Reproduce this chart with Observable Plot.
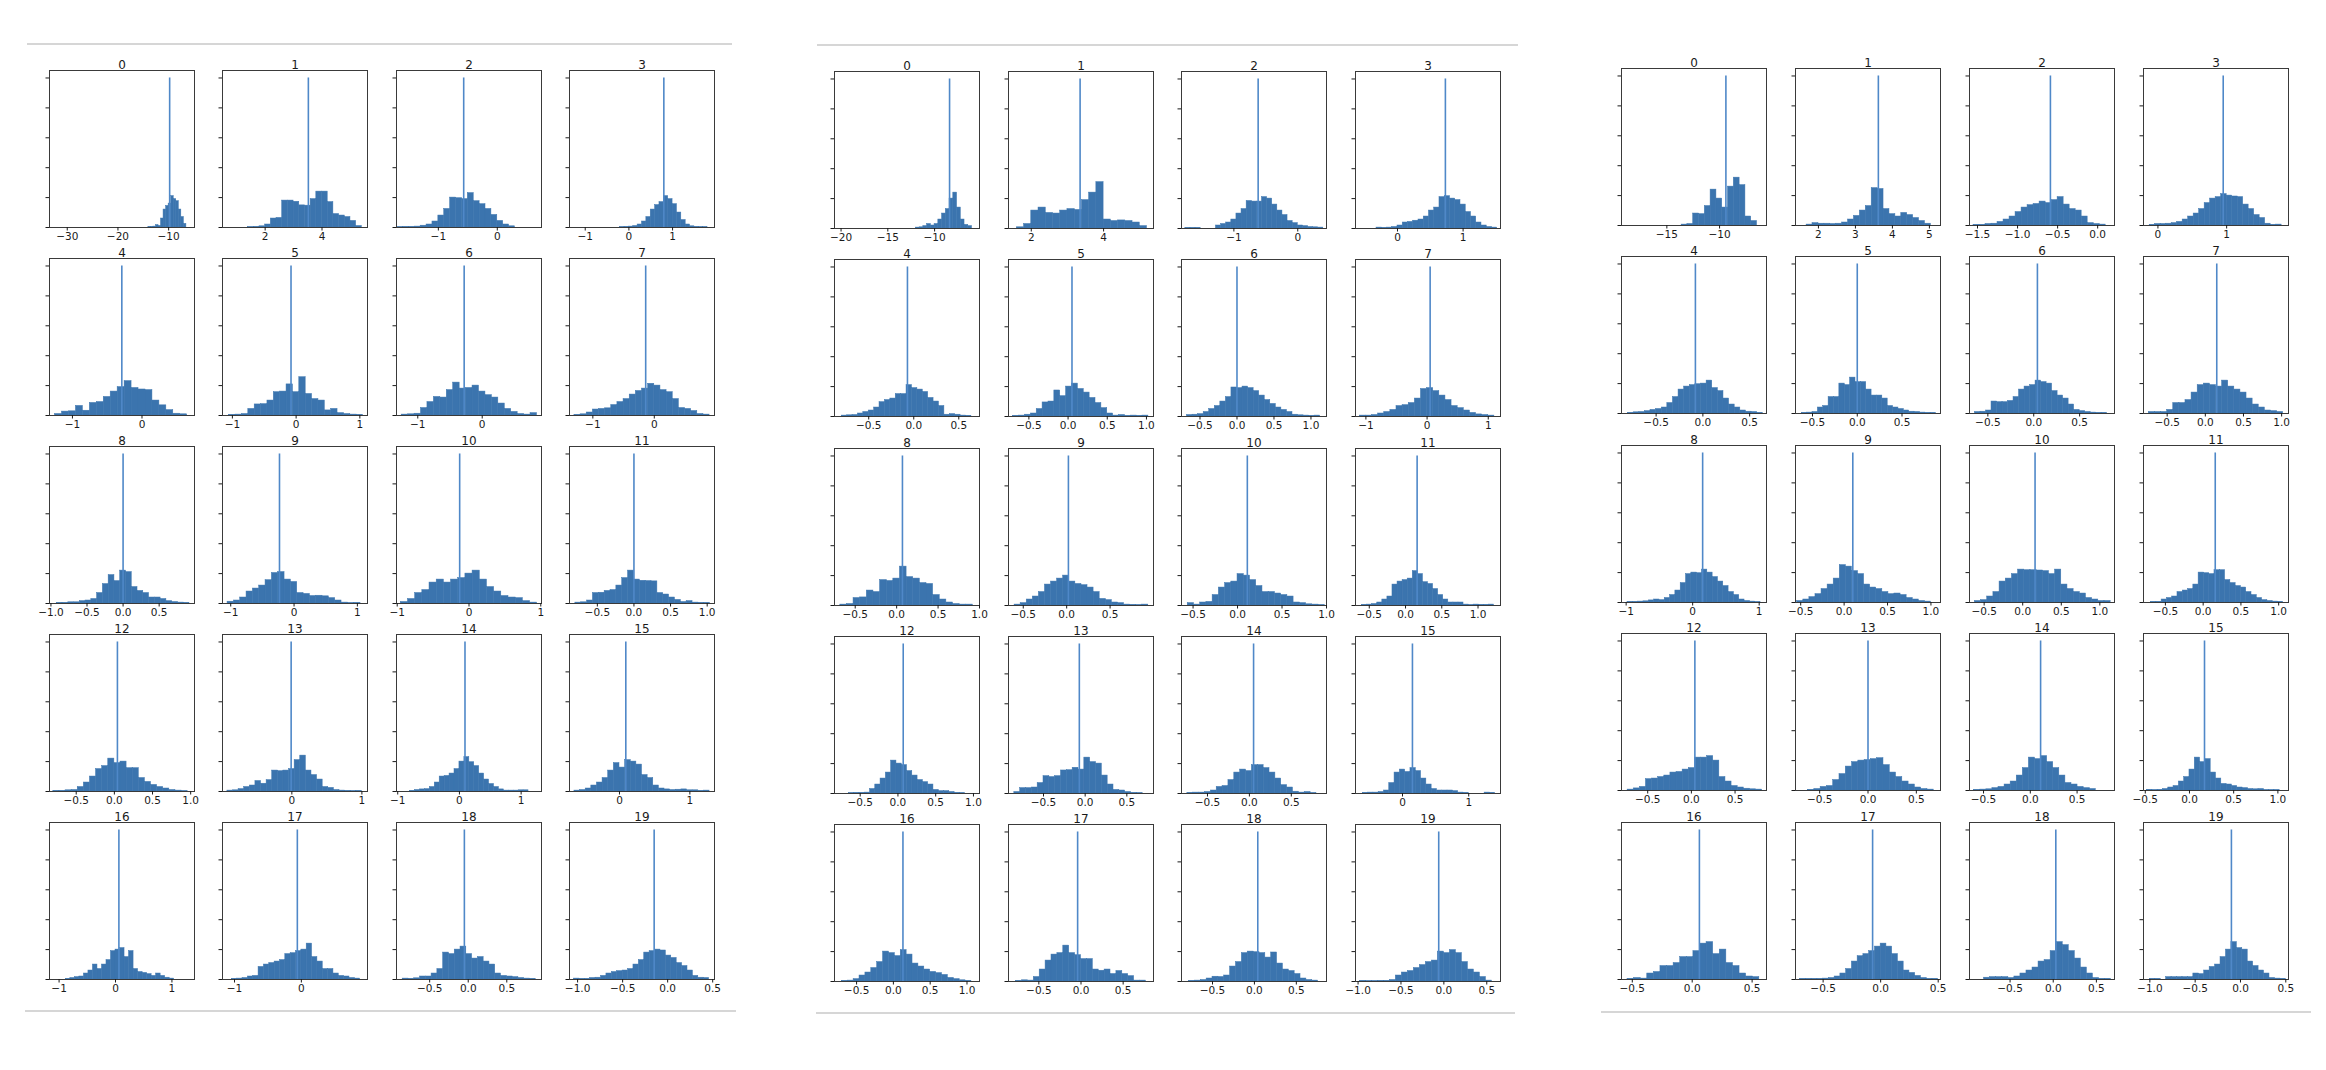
<!DOCTYPE html>
<html><head><meta charset="utf-8">
<script src="https://cdn.jsdelivr.net/npm/d3@7"></script>
<script src="https://cdn.jsdelivr.net/npm/@observablehq/plot@0.6"></script>
<style>
html,body{margin:0;padding:0;background:#fff;}
#root{position:relative;width:2326px;height:1070px;overflow:hidden;background:#fff;}
#root svg{position:absolute;}
.rule{position:absolute;height:2px;background:#d6d6d6;}
</style></head><body><div id="root"></div>
<script>
// ---------- DATA ----------
const subplotTitles = ["0","1","2","3","4","5","6","7","8","9","10","11","12","13","14","15","16","17","18","19"];
const spikeHeight = 5;

// Left panel
const leftDomains = [[-33.5,-4.9],[0.5,5.6],[-1.71,0.75],[-1.36,1.96],[-1.33,0.755],[-1.155,1.12],[-1.33,0.92],[-1.38,0.98],[-1.02,0.99],[-1.13,1.16],[-1.01,1.01],[-0.88,1.1],[-0.85,1.05],[-0.99,1.08],[-1.02,1.33],[-0.71,1.35],[-1.17,1.4],[-1.18,0.99],[-0.93,0.95],[-1.09,0.52]];
const leftTicks = [[-30,-20,-10],[2,4],[-1,0],[-1,0,1],[-1,0],[-1,0,1],[-1,0],[-1,0],[-1,-0.5,0,0.5],[-1,0,1],[-1,0,1],[-0.5,0,0.5,1],[-0.5,0,0.5,1],[0,1],[-1,0,1],[0,1],[-1,0,1],[-1,0],[-0.5,0,0.5],[-1,-0.5,0,0.5]];
const leftBinStart = [-14,1.4,-1.7,-0.2,-1.25,-1.05,-1.25,-1.3,-0.92,-1.05,-0.95,-0.8,-0.8,-0.92,-0.8,-0.64,-0.88,-1.04,-0.85,-1.04];
const leftBinWidth = [0.5,0.2,0.1,0.1,0.1,0.1,0.1,0.1,0.08,0.1,0.1,0.08,0.08,0.08,0.08,0.08,0.08,0.08,0.075,0.06];
const leftCounts = [
 [0.02,0.02,0.03,0.08,0.05,0.3,0.6,0.72,0.8,1.05,0.95,0.88,0.6,0.35,0.12],
 [0.01,0.02,0.04,0.1,0.3,0.32,0.9,0.9,0.86,0.74,0.73,0.95,1.2,1.2,0.85,0.45,0.4,0.35,0.22,0.05],
 [0.01,0.02,0.02,0.03,0.06,0.1,0.2,0.4,0.62,1.0,0.98,0.95,1.15,0.88,0.78,0.62,0.42,0.22,0.1,0.04],
 [0.01,0.02,0.03,0.05,0.1,0.2,0.35,0.6,0.75,0.85,1.05,0.95,0.78,0.5,0.25,0.1,0.04,0.02,0.01,0.01],
 [0.05,0.13,0.14,0.32,0.16,0.42,0.45,0.62,0.8,0.95,1.15,0.92,0.87,0.85,0.5,0.34,0.18,0.06,0.04],
 [0.02,0.03,0.05,0.22,0.37,0.38,0.5,0.78,0.8,1.04,0.78,1.28,0.72,0.55,0.5,0.17,0.22,0.08,0.05,0.03,0.02],
 [0.03,0.04,0.06,0.25,0.45,0.62,0.6,0.85,1.1,0.9,0.92,1.0,0.8,0.68,0.6,0.4,0.22,0.12,0.05,0.03,0.08],
 [0.02,0.04,0.1,0.2,0.22,0.24,0.35,0.45,0.55,0.7,0.82,0.9,1.06,1.0,0.85,0.78,0.55,0.25,0.22,0.15,0.05,0.03],
 [0.02,0.02,0.04,0.04,0.08,0.1,0.15,0.35,0.65,0.95,0.75,1.1,1.05,0.55,0.42,0.35,0.2,0.2,0.15,0.08,0.05,0.03,0.02],
 [0.06,0.1,0.2,0.4,0.5,0.6,0.78,1.02,1.05,0.8,0.72,0.35,0.32,0.25,0.26,0.24,0.18,0.1,0.03,0.01,0.02],
 [0.05,0.15,0.35,0.45,0.7,0.8,0.7,0.8,0.85,1.0,1.1,0.8,0.55,0.4,0.25,0.2,0.18,0.08,0.03],
 [0.03,0.04,0.1,0.35,0.36,0.42,0.45,0.6,0.85,1.1,0.8,0.76,0.75,0.74,0.35,0.3,0.2,0.12,0.05,0.08,0.03,0.02,0.02],
 [0.02,0.02,0.04,0.05,0.15,0.3,0.5,0.75,0.85,1.1,0.95,1.0,0.78,0.78,0.45,0.32,0.22,0.15,0.1,0.05,0.03,0.01],
 [0.03,0.04,0.08,0.15,0.2,0.35,0.26,0.38,0.7,0.68,0.7,0.75,1.05,1.2,0.7,0.55,0.4,0.15,0.12,0.05,0.03,0.02,0.01,0.02],
 [0.02,0.05,0.07,0.08,0.15,0.3,0.5,0.52,0.6,0.75,1.0,1.15,0.98,0.85,0.6,0.4,0.25,0.15,0.07,0.03,0.03,0.03,0.04,0.04],
 [0.03,0.05,0.1,0.2,0.3,0.45,0.7,0.95,0.8,1.05,1.0,0.9,0.55,0.45,0.2,0.1,0.07,0.05,0.06,0.07,0.04,0.04,0.02,0.03],
 [0.02,0.05,0.08,0.1,0.2,0.3,0.5,0.35,0.5,0.65,0.95,1.0,1.05,0.75,0.95,0.35,0.25,0.22,0.18,0.12,0.2,0.12,0.06,0.03],
 [0.02,0.03,0.05,0.1,0.12,0.42,0.5,0.55,0.6,0.65,0.85,0.88,0.95,1.0,1.2,0.75,0.6,0.35,0.35,0.2,0.12,0.1,0.05,0.03],
 [0.03,0.02,0.04,0.1,0.1,0.2,0.35,0.9,0.85,1.0,1.1,0.85,0.7,0.75,0.6,0.5,0.2,0.12,0.1,0.08,0.05,0.03,0.02],
 [0.03,0.02,0.02,0.05,0.06,0.12,0.2,0.25,0.28,0.3,0.35,0.5,0.65,0.9,0.95,1.0,0.97,0.8,0.72,0.55,0.45,0.3,0.12,0.06,0.05]
];
const leftSpikes = [-9.8,3.52,-0.57,0.8,-0.29,-0.08,-0.28,-0.14,0.0,-0.23,-0.13,0.0,0.04,-0.01,0.09,0.09,0.06,-0.06,-0.05,-0.15];

// Middle panel
const middleDomains = [[-20.7,-5.2],[1.37,5.38],[-1.82,0.45],[-0.64,1.57],[-0.88,0.73],[-0.76,1.09],[-0.75,1.21],[-1.17,1.2],[-0.75,1.0],[-0.67,1.0],[-0.63,1.0],[-0.69,1.31],[-0.84,1.08],[-0.92,0.82],[-0.81,0.92],[-0.71,1.48],[-0.8,1.17],[-0.86,0.86],[-0.87,0.86],[-1.03,0.66]];
const middleTicks = [[-20,-15,-10],[2,4],[-1,0],[0,1],[-0.5,0,0.5],[-0.5,0,0.5,1],[-0.5,0,0.5,1],[-1,0,1],[-0.5,0,0.5,1],[-0.5,0,0.5],[-0.5,0,0.5,1],[-0.5,0,0.5,1],[-0.5,0,0.5,1],[-0.5,0,0.5],[-0.5,0,0.5],[0,1],[-0.5,0,0.5,1],[-0.5,0,0.5],[-0.5,0,0.5],[-1,-0.5,0,0.5]];
const middleBinStart = [-12,1.6,-1.76,-0.32,-0.8,-0.7,-0.675,-1.1,-0.68,-0.6,-0.56,-0.6,-0.65,-0.85,-0.74,-0.6,-0.7,-0.77,-0.78,-0.98];
const middleBinWidth = [0.4,0.2,0.08,0.08,0.06,0.075,0.075,0.1,0.08,0.07,0.07,0.07,0.07,0.07,0.07,0.08,0.08,0.07,0.07,0.07];
const middleCounts = [
 [0.03,0.04,0.08,0.15,0.1,0.15,0.3,0.5,0.65,1.0,1.2,0.7,0.3,0.12,0.08],
 [0.04,0.15,0.6,0.7,0.52,0.5,0.6,0.65,0.62,0.95,1.2,1.55,0.3,0.25,0.27,0.25,0.2,0.08],
 [0.02,0.02,0.02,0,0,0,0.1,0.15,0.2,0.3,0.5,0.65,0.92,0.9,0.9,1.05,1.0,0.8,0.6,0.45,0.25,0.18,0.1,0.08,0.05,0.04,0.03],
 [0.03,0.02,0.03,0.05,0.1,0.2,0.22,0.26,0.3,0.4,0.6,0.7,1.05,1.08,1.0,0.95,0.8,0.55,0.4,0.2,0.1,0.05,0.03],
 [0.03,0.04,0.05,0.1,0.15,0.2,0.3,0.48,0.55,0.6,0.75,0.75,1.05,0.95,0.9,0.82,0.62,0.5,0.35,0.06,0.08,0.06,0.03,0.02],
 [0.02,0.03,0.06,0.1,0.25,0.47,0.5,0.87,0.68,1.0,1.1,0.92,0.8,0.62,0.45,0.28,0.1,0.03,0.05,0.02,0.03,0.02,0.03],
 [0.05,0.06,0.08,0.15,0.25,0.35,0.5,0.65,0.97,0.95,1.0,0.95,0.85,0.7,0.55,0.42,0.3,0.22,0.15,0.06,0.04,0.03,0.02,0.03],
 [0.03,0.03,0.05,0.1,0.15,0.22,0.35,0.38,0.45,0.6,0.92,0.95,0.85,0.7,0.55,0.35,0.28,0.2,0.12,0.07,0.05,0.03],
 [0.03,0.05,0.25,0.27,0.5,0.45,0.85,0.82,0.9,1.3,0.95,0.9,0.75,0.72,0.35,0.2,0.1,0.05,0.03,0.03],
 [0.03,0.08,0.2,0.3,0.45,0.7,0.8,0.9,1.0,0.8,0.72,0.68,0.6,0.45,0.22,0.18,0.1,0.08,0.03,0.02,0.01,0.03],
 [0.08,0.03,0.1,0.12,0.35,0.6,0.75,0.8,1.05,1.0,0.85,0.65,0.45,0.45,0.4,0.35,0.3,0.1,0.08,0.04,0.03,0.01],
 [0.02,0.03,0.05,0.1,0.2,0.3,0.7,0.8,0.85,0.9,1.15,1.05,0.78,0.72,0.55,0.35,0.2,0.1,0.1,0.1,0.03,0.01,0.03,0.02,0.02,0.03],
 [0.01,0.02,0.02,0.03,0.15,0.3,0.5,0.7,1.1,1.0,0.95,0.75,0.6,0.45,0.38,0.3,0.12,0.08,0.08,0.05,0.02,0.01],
 [0.05,0.18,0.18,0.2,0.35,0.58,0.55,0.58,0.77,0.78,0.86,0.8,1.2,1.05,1.0,0.6,0.3,0.12,0.1,0.05,0.02,0.01],
 [0.02,0.03,0.03,0.05,0.1,0.22,0.25,0.45,0.7,0.8,0.75,0.95,0.95,0.85,0.7,0.5,0.28,0.2,0.06,0.03,0.05,0.01],
 [0.02,0.03,0.03,0.05,0.1,0.35,0.7,0.8,0.72,0.85,0.75,0.5,0.3,0.15,0.1,0.1,0.1,0.08,0.03,0.02,0,0,0,0.03,0.02],
 [0.02,0.03,0.08,0.2,0.3,0.45,0.65,1.0,0.95,0.85,1.05,0.9,0.6,0.5,0.4,0.32,0.28,0.22,0.12,0.08,0.04,0.02],
 [0.02,0.04,0.03,0.15,0.4,0.7,0.9,0.95,1.2,0.95,0.88,0.75,0.75,0.4,0.36,0.4,0.25,0.35,0.25,0.18,0.03,0.03],
 [0.02,0.03,0.05,0.1,0.16,0.15,0.2,0.5,0.65,0.95,1.0,0.98,0.95,0.8,0.97,0.6,0.4,0.35,0.25,0.1,0.05,0.03],
 [0.02,0.01,0.01,0.02,0.02,0.05,0.2,0.3,0.35,0.45,0.55,0.65,0.7,1.0,0.95,1.05,0.95,0.65,0.4,0.3,0.15,0.03]
];
const middleSpikes = [-8.4,3.35,-0.62,0.73,-0.07,0.05,0.0,0.05,0.07,0.02,0.11,0.16,0.07,-0.07,0.05,0.15,0.13,-0.04,0.04,-0.06];

// Right panel
const rightDomains = [[-19.3,-5.55],[1.38,5.3],[-1.6,0.21],[-0.21,1.9],[-0.87,0.68],[-0.69,0.93],[-0.7,0.88],[-0.81,1.09],[-1.07,1.11],[-0.56,1.11],[-0.69,1.19],[-0.79,1.13],[-0.8,0.86],[-0.75,0.75],[-0.65,0.9],[-0.52,1.12],[-0.59,0.62],[-0.74,0.52],[-0.97,0.71],[-1.07,0.53]];
const rightTicks = [[-15,-10],[2,3,4,5],[-1.5,-1,-0.5,0],[0,1],[-0.5,0,0.5],[-0.5,0,0.5],[-0.5,0,0.5],[-0.5,0,0.5,1],[-1,0,1],[-0.5,0,0.5,1],[-0.5,0,0.5,1],[-0.5,0,0.5,1],[-0.5,0,0.5],[-0.5,0,0.5],[-0.5,0,0.5],[-0.5,0,0.5,1],[-0.5,0,0.5],[-0.5,0,0.5],[-0.5,0,0.5],[-1,-0.5,0,0.5]];
const rightBinStart = [-13.6,1.68,-1.55,-0.12,-0.8,-0.62,-0.64,-0.74,-0.98,-0.54,-0.62,-0.69,-0.73,-0.62,-0.6,-0.48,-0.54,-0.7,-0.8,-1.0];
const rightBinWidth = [0.55,0.16,0.075,0.08,0.06,0.06,0.06,0.08,0.08,0.07,0.08,0.07,0.07,0.065,0.065,0.06,0.055,0.05,0.07,0.06];
const rightCounts = [
 [0.03,0.05,0.4,0.38,0.65,1.2,0.9,0.6,1.3,1.6,1.35,0.3,0.15],
 [0.03,0.08,0.06,0.06,0.05,0.06,0.1,0.2,0.32,0.5,0.65,1.25,1.22,0.55,0.38,0.3,0.42,0.35,0.25,0.15,0.06],
 [0.02,0.02,0.05,0.06,0.12,0.2,0.3,0.45,0.6,0.68,0.72,0.8,0.75,0.85,0.95,0.7,0.55,0.5,0.3,0.08,0.05,0.03],
 [0.02,0.05,0.05,0.06,0.08,0.12,0.2,0.3,0.4,0.55,0.75,0.9,0.95,1.05,1.0,0.97,0.95,0.7,0.55,0.35,0.25,0.06,0.02,0.03],
 [0.02,0.04,0.05,0.08,0.12,0.15,0.2,0.35,0.55,0.8,0.9,0.95,0.98,1.0,1.1,0.85,0.75,0.5,0.3,0.2,0.1,0.06,0.05,0.02],
 [0.02,0.03,0.05,0.2,0.25,0.55,0.55,1.0,0.95,1.2,1.05,1.05,0.8,0.6,0.6,0.5,0.25,0.2,0.15,0.1,0.06,0.05,0.03,0.02,0.02],
 [0.05,0.06,0.1,0.4,0.38,0.38,0.42,0.55,0.8,0.9,0.95,1.1,1.05,1.0,0.75,0.6,0.5,0.3,0.12,0.08,0.05,0.03,0.02,0.02],
 [0.05,0.05,0.05,0.12,0.35,0.35,0.45,0.7,0.95,1.0,0.95,0.9,1.1,0.9,0.8,0.7,0.5,0.3,0.2,0.1,0.08,0.05],
 [0.02,0.02,0.03,0.04,0.07,0.1,0.08,0.15,0.25,0.4,0.65,0.95,1.0,0.98,1.1,1.0,0.85,0.7,0.55,0.35,0.25,0.1,0.05,0.03,0.01],
 [0.05,0.1,0.18,0.28,0.45,0.6,0.8,1.25,1.2,1.05,0.95,0.6,0.5,0.45,0.35,0.28,0.3,0.25,0.15,0.1,0.05,0.03],
 [0.05,0.08,0.2,0.35,0.7,0.8,0.95,1.1,1.08,1.08,1.07,1.05,0.95,1.1,0.6,0.45,0.35,0.3,0.15,0.1,0.05,0.05],
 [0.02,0.02,0.1,0.15,0.2,0.35,0.4,0.45,0.6,1.0,0.98,0.95,1.08,1.08,0.75,0.65,0.55,0.5,0.35,0.25,0.15,0.08,0.05,0.03,0.02],
 [0.03,0.07,0.12,0.38,0.4,0.45,0.5,0.6,0.62,0.7,0.75,1.1,1.1,1.15,1.0,0.45,0.3,0.15,0.1,0.06,0.04,0.03],
 [0.02,0.05,0.12,0.15,0.35,0.55,0.8,0.95,1.0,1.02,1.05,1.08,0.85,0.6,0.45,0.3,0.2,0.1,0.05,0.03],
 [0.02,0.03,0.04,0.08,0.12,0.2,0.3,0.5,0.75,1.1,1.05,1.15,0.95,0.75,0.5,0.25,0.2,0.12,0.08,0.05],
 [0.02,0.01,0.02,0.05,0.1,0.15,0.3,0.45,0.7,1.1,0.95,1.05,0.6,0.4,0.22,0.2,0.15,0.1,0.08,0.05,0.04,0.05,0.01,0.01,0.01],
 [0.02,0.05,0.03,0.2,0.25,0.45,0.45,0.55,0.75,0.75,0.95,1.2,1.25,0.85,1.0,0.55,0.45,0.2,0.1,0.08],
 [0.02,0.02,0.02,0.02,0.03,0.05,0.1,0.2,0.35,0.6,0.78,0.85,0.95,1.1,1.2,1.1,0.85,0.6,0.3,0.22,0.12,0.05,0.02,0.02],
 [0.06,0.08,0.08,0.08,0.05,0.1,0.2,0.3,0.4,0.6,0.65,0.95,1.25,1.15,0.95,0.7,0.4,0.2,0.05,0.02,0.02],
 [0.02,0.02,0,0.08,0.08,0.08,0.08,0.08,0.2,0.18,0.3,0.42,0.5,0.75,1.0,1.25,1.05,1.0,0.6,0.45,0.3,0.2,0.05,0.03,0.02]
];
const rightSpikes = [-9.4,3.62,-0.59,0.95,-0.08,0.0,0.04,0.15,0.15,0.1,0.16,0.16,0.04,0.0,0.11,0.17,0.06,-0.07,0.03,-0.1];

// ---------- LAYOUT ----------
const FRAME_W = 145, FRAME_H = 157;
const ML = 10, MR = 16, MT = 24, MB = 26;
const BAR = "#3b74ae", SPIKE = "#4f88c8";
const panels = [
  {x0: 49, y0: 70, dx: 173.4, dy: 188, domains: leftDomains, ticks: leftTicks, starts: leftBinStart, widths: leftBinWidth, counts: leftCounts, spikes: leftSpikes},
  {x0: 834, y0: 71, dx: 173.7, dy: 188.3, domains: middleDomains, ticks: middleTicks, starts: middleBinStart, widths: middleBinWidth, counts: middleCounts, spikes: middleSpikes},
  {x0: 1621, y0: 67.5, dx: 174, dy: 188.6, domains: rightDomains, ticks: rightTicks, starts: rightBinStart, widths: rightBinWidth, counts: rightCounts, spikes: rightSpikes}
];
const rules = [
  {x1: 27, x2: 732, y: 43}, {x1: 25, x2: 736, y: 1010},
  {x1: 817, x2: 1518, y: 44}, {x1: 816, x2: 1515, y: 1012},
  {x1: 1601, x2: 2311, y: 1011}
];

const root = document.getElementById("root");
for (const r of rules) {
  const d = document.createElement("div");
  d.className = "rule";
  d.style.left = r.x1 + "px"; d.style.width = (r.x2 - r.x1) + "px"; d.style.top = r.y + "px";
  root.appendChild(d);
}

function makeFormat(ticks) {
  const frac = ticks.some(t => !Number.isInteger(t));
  return t => (frac ? t.toFixed(1) : t.toFixed(0)).replace("-", "\u2212");
}

panels.forEach(p => {
  subplotTitles.forEach((title, i) => {
    const col = i % 4, row = Math.floor(i / 4);
    const start = p.starts[i], w = p.widths[i];
    const bins = p.counts[i].map((c, k) => ({x1: start + k * w, x2: start + (k + 1) * w, y: c}));
    const ticks = p.ticks[i];
    const fmt = makeFormat(ticks);
    const svg = Plot.plot({
      width: FRAME_W + ML + MR, height: FRAME_H + MT + MB,
      marginLeft: ML, marginRight: MR, marginTop: MT, marginBottom: MB,
      x: {domain: p.domains[i]},
      y: {domain: [0, spikeHeight * 1.05]},
      style: {fontFamily: "'DejaVu Sans', sans-serif", fontSize: "10.5px", color: "#1a1a1a", background: "transparent", overflow: "visible"},
      marks: [
        Plot.rectY(bins, {x1: "x1", x2: "x2", y: "y", fill: BAR, stroke: BAR, strokeWidth: 0.5}),
        Plot.ruleX([p.spikes[i]], {x: d => d, y1: 0, y2: spikeHeight, stroke: SPIKE, strokeWidth: 1.6}),
        Plot.frame({stroke: "#3a3a3a", strokeWidth: 1}),
        Plot.axisX({ticks, tickFormat: fmt, tickSize: 3.5, tickPadding: 2, label: null, fontSize: 10.5}),
        Plot.axisY({ticks: [0, 1, 2, 3, 4, 5], tickSize: 3.5, tickFormat: () => "", label: null}),
        Plot.text([title], {frameAnchor: "top", dy: -10, fontSize: 12, fill: "#1a1a1a"})
      ]
    });
    svg.style.left = Math.round(p.x0 + col * p.dx - ML) + "px";
    svg.style.top = Math.round(p.y0 + row * p.dy - MT) + "px";
    root.appendChild(svg);
  });
});
</script>
</body></html>
